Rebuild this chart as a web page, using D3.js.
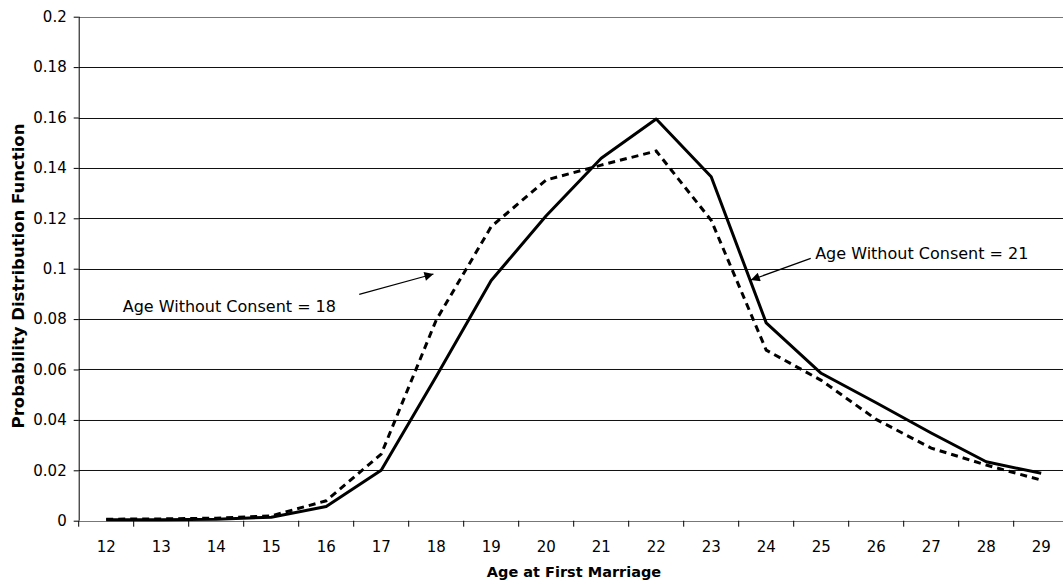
<!DOCTYPE html>
<html>
<meta charset="utf-8">
<style>
  body { margin: 0; background: #fff; }
  svg { display: block; font-family: "DejaVu Sans", Verdana, sans-serif; }
</style>
<script src="https://d3js.org/d3.v7.min.js"></script>
<body>
<script>
  var svgWidth = 1063, svgHeight = 584;
  var margin = {top: 16.7, left: 78.7, bottom: 63.3};
  var plotWidth = 990; // plot runs past the right edge, as in the original
  var plotHeight = svgHeight - margin.top - margin.bottom;

  var ages = [12, 13, 14, 15, 16, 17, 18, 19, 20, 21, 22, 23, 24, 25, 26, 27, 28, 29];
  var consent21 = [0.0004, 0.0004, 0.0006, 0.0014, 0.0056, 0.0200, 0.0572, 0.0953, 0.1210, 0.1438, 0.1594,
                   0.1365, 0.0785, 0.0585, 0.0468, 0.0348, 0.0234, 0.0188];
  var consent18 = [0.0006, 0.0007, 0.0010, 0.0019, 0.0079, 0.0264, 0.0796, 0.1167, 0.1352, 0.1411, 0.1467,
                   0.1192, 0.0677, 0.0557, 0.0402, 0.0288, 0.0221, 0.0161];
  var yTicks = [0, 0.02, 0.04, 0.06, 0.08, 0.1, 0.12, 0.14, 0.16, 0.18, 0.2];

  // annotations: label start, arrow tail, arrow head, in data units
  var labels = ["Age Without Consent = 18", "Age Without Consent = 21"];
  var labelPos = [[12.30, 0.0828], [24.89, 0.1037]];
  var arrowFrom = [[16.60, 0.0898], [24.81, 0.1041]];
  var arrowTo = [[17.95, 0.0979], [23.72, 0.0955]];

  var svg = d3.select("body")
    .append("svg")
    .attr("width", svgWidth)
    .attr("height", svgHeight);

  svg.append("defs").append("marker")
    .attr("id", "head")
    .attr("viewBox", "0 0 10 10")
    .attr("refX", 10).attr("refY", 5)
    .attr("markerWidth", 11).attr("markerHeight", 9)
    .attr("markerUnits", "userSpaceOnUse")
    .attr("orient", "auto")
    .append("path")
    .attr("d", "M0,0 L10,5 L0,10 Z")
    .attr("fill", "#000");

  var g = svg.append("g").attr("transform", "translate(" + margin.left + "," + margin.top + ")");

  var x = d3.scaleBand().domain(ages).range([0, plotWidth]).padding(0);
  var xPos = d3.scaleLinear().domain([12, 29])
    .range([x(12) + x.bandwidth() / 2, x(29) + x.bandwidth() / 2]);
  var y = d3.scaleLinear().domain([0, 0.2]).range([plotHeight, 0]);

  function crisp(v) { return Math.round(v + margin.top) - margin.top + 0.5; }

  // gridlines
  g.selectAll(".grid")
    .data(yTicks)
    .enter()
    .append("line")
    .attr("x1", 0).attr("x2", plotWidth)
    .attr("y1", function(d){ return crisp(y(d)); })
    .attr("y2", function(d){ return crisp(y(d)); })
    .attr("stroke", function(d, i){ return (i == 0 || i == yTicks.length - 1) ? "#777" : "#111"; })
    .attr("stroke-width", 1);

  // y axis
  var yAxis = g.append("g")
    .call(d3.axisLeft(y).tickValues(yTicks).tickSize(5).tickPadding(7)
      .tickFormat(function(d){ return d3.format("")(+d.toFixed(2)); }));
  yAxis.select(".domain").remove();
  yAxis.selectAll("text").attr("font-size", 15).attr("fill", "#000")
    .attr("font-family", "DejaVu Sans, Verdana, sans-serif");

  // x axis, ticks between categories
  var xAxis = g.append("g")
    .attr("transform", "translate(0," + plotHeight + ")");
  xAxis.selectAll(".tick")
    .data(ages)
    .enter()
    .append("line")
    .attr("x1", function(d){ return x(d); })
    .attr("x2", function(d){ return x(d); })
    .attr("y1", 0).attr("y2", 6)
    .attr("stroke", "#000");
  xAxis.selectAll(".lbl")
    .data(ages)
    .enter()
    .append("text")
    .attr("x", function(d){ return xPos(d); })
    .attr("y", 31)
    .attr("text-anchor", "middle")
    .attr("font-size", 15)
    .text(function(d){ return d; });

  // y axis line drawn over grid
  g.append("line")
    .attr("x1", 0.5).attr("x2", 0.5)
    .attr("y1", 0).attr("y2", plotHeight)
    .attr("stroke", "#000");

  var line = d3.line()
    .x(function(d, i){ return xPos(ages[i]); })
    .y(function(d){ return y(d); });

  g.append("path")
    .attr("d", line(consent18))
    .attr("fill", "none")
    .attr("stroke", "#000")
    .attr("stroke-width", 3)
    .attr("stroke-dasharray", "7,5");

  g.append("path")
    .attr("d", line(consent21))
    .attr("fill", "none")
    .attr("stroke", "#000")
    .attr("stroke-width", 3)
    .attr("stroke-linejoin", "round");

  // annotations
  labels.forEach(function(t, i){
    g.append("text")
      .attr("x", xPos(labelPos[i][0]))
      .attr("y", y(labelPos[i][1]))
      .attr("font-size", 16)
      .text(t);
    g.append("line")
      .attr("x1", xPos(arrowFrom[i][0])).attr("y1", y(arrowFrom[i][1]))
      .attr("x2", xPos(arrowTo[i][0])).attr("y2", y(arrowTo[i][1]))
      .attr("stroke", "#000")
      .attr("stroke-width", 1.2)
      .attr("marker-end", "url(#head)");
  });

  // axis titles
  svg.append("text")
    .attr("transform", "translate(24,276) rotate(-90)")
    .attr("text-anchor", "middle")
    .attr("font-size", 16.5)
    .attr("font-weight", "bold")
    .text("Probability Distribution Function");

  svg.append("text")
    .attr("x", 574)
    .attr("y", 577)
    .attr("text-anchor", "middle")
    .attr("font-size", 14.5)
    .attr("font-weight", "bold")
    .text("Age at First Marriage");
</script>
</body>
</html>
